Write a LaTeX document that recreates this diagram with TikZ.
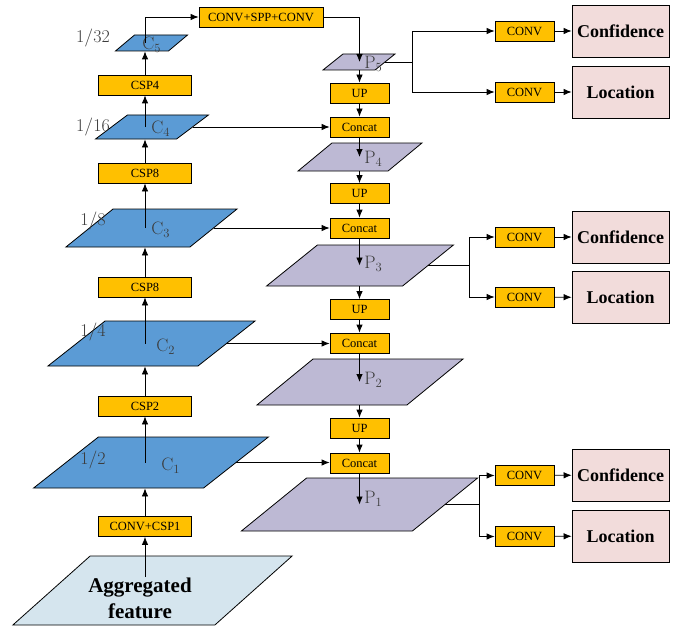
\documentclass[tikz,border=0pt]{standalone}
\usepackage[no-math]{fontspec}
\setmainfont{Liberation Serif}
\usepackage{fix-cm}
\usetikzlibrary{arrows.meta}
\definecolor{featblue}{HTML}{5B9BD5}
\definecolor{aggblue}{HTML}{D5E5EE}
\definecolor{predlilac}{HTML}{BDB9D4}
\definecolor{opyellow}{HTML}{FFC000}
\definecolor{headpink}{HTML}{F2DCDB}
\definecolor{labelgray}{HTML}{3C3C3C}

\begin{document}
\begin{tikzpicture}[x=1pt,y=-1pt,line width=0.8pt]
   \tikzstyle{every node}=[inner sep=0pt]
   \tikzstyle{arr}=[-{Latex[length=8pt,width=6.5pt]}]
   \tikzstyle{op}=[draw, fill=opyellow, minimum width=59, minimum height=20, font=\fontsize{12.5}{14}\selectfont]
   \tikzstyle{cmap}=[draw, fill=featblue, transform shape]
   \tikzstyle{pmap}=[draw, fill=predlilac, transform shape]
   \tikzstyle{head}=[draw, fill=headpink, minimum width=97, minimum height=52, font=\fontsize{18}{20}\bfseries\selectfont]
   \tikzstyle{lbl}=[anchor=west, text=labelgray, font=\fontsize{18}{20}\selectfont]
   \tikzstyle{frac}=[text=labelgray, font=\fontsize{18}{20}\selectfont]

\useasboundingbox (0,0) rectangle (678,626);

\node[draw, fill=aggblue, transform shape, minimum width=202, minimum height=69, xslant=1.12] (agg) at (152.5,590.5) {};
\node[font=\fontsize{21}{26}\bfseries\selectfont, align=center] (agglbl) at (140,598) {Aggregated\\feature};

\node[cmap, minimum width=170, minimum height=51, xslant=1.27] (C1) at (151,462.5) {};
\node[cmap, minimum width=150, minimum height=45, xslant=1.27] (C2) at (151.5,343.5) {};
\node[cmap, minimum width=124, minimum height=38, xslant=1.24] (C3) at (151.5,228) {};
\node[cmap, minimum width=81, minimum height=24, xslant=1.33] (C4) at (152,127) {};
\node[cmap, minimum width=53, minimum height=16, xslant=1.19] (C5) at (151.5,43) {};

\node[op, minimum width=93] (csp1) at (145,526.5) {CONV+CSP1};
\node[op, minimum width=93] (csp2) at (145,406) {CSP2};
\node[op, minimum width=93] (csp8b) at (145,287) {CSP8};
\node[op, minimum width=93] (csp8a) at (145,173) {CSP8};
\node[op, minimum width=93] (csp4) at (145,85) {CSP4};
\node[op, minimum width=124] (spp) at (261,17) {CONV+SPP+CONV};

\node[pmap, minimum width=52, minimum height=16, xslant=1.25] (P5) at (359,62) {};
\node[pmap, minimum width=90, minimum height=28, xslant=1.21] (P4) at (360,157) {};
\node[pmap, minimum width=136, minimum height=41, xslant=1.24] (P3) at (360,265.5) {};
\node[pmap, minimum width=150, minimum height=46, xslant=1.22] (P2) at (360,382) {};
\node[pmap, minimum width=171, minimum height=53, xslant=1.23] (P1) at (359.5,504.5) {};

\node[op] (upa) at (359.5,93) {UP};
\node[op] (cata) at (359.5,127) {Concat};
\node[op] (upb) at (359.5,193.5) {UP};
\node[op] (catb) at (359.5,228) {Concat};
\node[op] (upc) at (359.5,309.5) {UP};
\node[op] (catc) at (359.5,343) {Concat};
\node[op] (upd) at (359.5,428) {UP};
\node[op] (catd) at (359.5,463) {Concat};

\node[frac] (f32) at (93,38) {$1/32$};
\node[frac] (f16) at (93,127) {$1/16$};
\node[frac] (f8) at (93,221) {$1/8$};
\node[frac] (f4) at (93,332) {$1/4$};
\node[frac] (f2) at (93,460) {$1/2$};

\node[lbl] (lc5) at (142,45) {$\mathrm{C}_5$};
\node[lbl] (lc4) at (151,129) {$\mathrm{C}_4$};
\node[lbl] (lc3) at (151,230) {$\mathrm{C}_3$};
\node[lbl] (lc2) at (156,347) {$\mathrm{C}_2$};
\node[lbl] (lc1) at (161,466) {$\mathrm{C}_1$};
\node[lbl] (lp5) at (364,64) {$\mathrm{P}_5$};
\node[lbl] (lp4) at (364,159) {$\mathrm{P}_4$};
\node[lbl] (lp3) at (364,264) {$\mathrm{P}_3$};
\node[lbl] (lp2) at (364,380) {$\mathrm{P}_2$};
\node[lbl] (lp1) at (364,499) {$\mathrm{P}_1$};

\node[op] (cv5a) at (524.5,31) {CONV};
\node[op] (cv5b) at (524.5,92) {CONV};
\node[head] (conf5) at (620.5,31) {Confidence};
\node[head] (loc5) at (620.5,92) {Location};
\node[op] (cv3a) at (524.5,237) {CONV};
\node[op] (cv3b) at (524.5,297) {CONV};
\node[head] (conf3) at (620.5,237) {Confidence};
\node[head] (loc3) at (620.5,297.5) {Location};
\node[op] (cv1a) at (524.5,475.5) {CONV};
\node[op] (cv1b) at (524.5,536.5) {CONV};
\node[head] (conf1) at (620.5,475) {Confidence};
\node[head] (loc1) at (620.5,536) {Location};

\coordinate (br5) at (412,0);
\coordinate (br3) at (469,0);
\coordinate (br1) at (479,0);

\draw[arr] (csp1 |- agglbl.north) -- (csp1.south);
\draw[arr] (csp1.north) -- (csp1.north |- C1.south);
\draw[arr] (csp2 |- C1.center) -- (csp2.south);
\draw[arr] (csp2.north) -- (csp2.north |- C2.south);
\draw[arr] (csp8b |- C2.center) -- (csp8b.south);
\draw[arr] (csp8b.north) -- (csp8b.north |- C3.south);
\draw[arr] (csp8a |- C3.center) -- (csp8a.south);
\draw[arr] (csp8a.north) -- (csp8a.north |- C4.south);
\draw[arr] (csp4 |- C4.center) -- (csp4.south);
\draw[arr] (csp4.north) -- (csp4.north |- C5.south);
\draw[arr] (csp4 |- C5.center) |- (spp.west);
\draw[arr] (spp.east) -| (upa |- P5.center);

\draw[arr] (upa |- P5.south) -- (upa.north);
\draw[arr] (upa.south) -- (cata.north);
\draw[arr] (cata.south) -- (cata.south |- P4.center);
\draw[arr] (upb |- P4.south) -- (upb.north);
\draw[arr] (upb.south) -- (catb.north);
\draw[arr] (catb.south) -- (catb.south |- P3.center);
\draw[arr] (upc |- P3.south) -- (upc.north);
\draw[arr] (upc.south) -- (catc.north);
\draw[arr] (catc.south) -- (catc.south |- P2.center);
\draw[arr] (upd |- P2.south) -- (upd.north);
\draw[arr] (upd.south) -- (catd.north);
\draw[arr] (catd.south) -- (catd.south |- P1.center);

\draw[arr] (C4.east) -- (C4.east -| cata.west);
\draw[arr] (C3.east) -- (C3.east -| catb.west);
\draw[arr] (C2.east) -- (C2.east -| catc.west);
\draw[arr] (C1.east) -- (C1.east -| catd.west);

\draw[arr] (P5.east) -- (P5.east -| br5) |- (cv5a.west);
\draw[arr] (P5.east -| br5) |- (cv5b.west);
\draw[arr] (P3.east) -- (P3.east -| br3) |- (cv3a.west);
\draw[arr] (P3.east -| br3) |- (cv3b.west);
\draw[arr] (P1.east) -- (P1.east -| br1) |- (cv1a.west);
\draw[arr] (P1.east -| br1) |- (cv1b.west);

\draw[arr] (cv5a) -- (conf5);
\draw[arr] (cv5b) -- (loc5);
\draw[arr] (cv3a) -- (conf3);
\draw[arr] (cv3b) -- (loc3);
\draw[arr] (cv1a) -- (conf1);
\draw[arr] (cv1b) -- (loc1);

\end{tikzpicture}
\end{document}
